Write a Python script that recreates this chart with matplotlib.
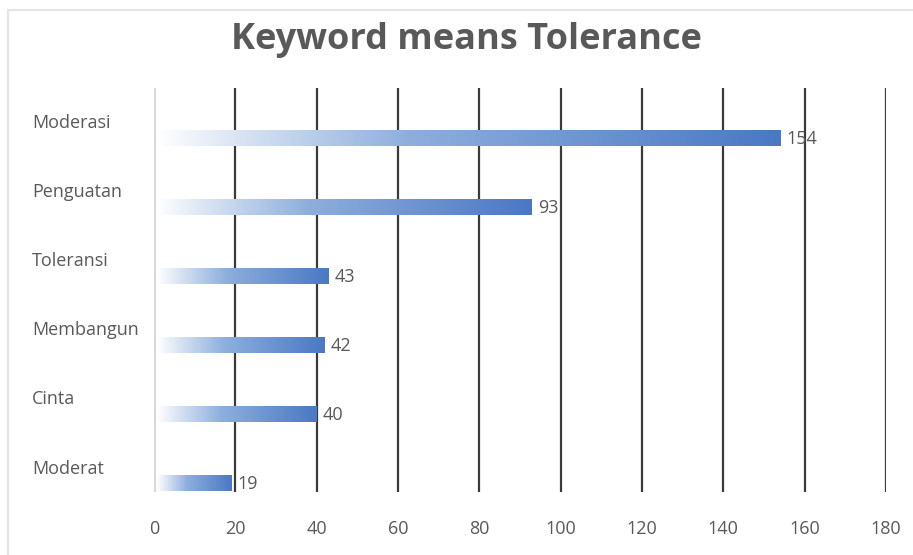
import numpy as np
import matplotlib.pyplot as plt
from matplotlib.colors import LinearSegmentedColormap
from matplotlib.lines import Line2D
from matplotlib.transforms import blended_transform_factory

# data
categories = ['Moderat', 'Cinta', 'Membangun', 'Toleransi', 'Penguatan', 'Moderasi']
values = [19, 40, 42, 43, 93, 154]
xticks = [0, 20, 40, 60, 80, 100, 120, 140, 160, 180]

W, H = 913, 555
fig = plt.figure(figsize=(W / 100, H / 100), dpi=100)
ax = fig.add_axes([154 / W, 1 - 492 / H, (886 - 154) / W, (492 - 88) / H])

# faint border, left and top
fig.add_artist(Line2D([8 / W, 8 / W], [0, 1 - 10 / H], color='#e4e4e4', lw=1.5))
fig.add_artist(Line2D([8 / W, 1], [1 - 10 / H, 1 - 10 / H], color='#e4e4e4', lw=1.5))

cmap = LinearSegmentedColormap.from_list(
    'grad', [(0, '#ffffff'), (0.12, '#dce6f4'), (0.4, '#8eafdd'), (1, '#4a78c4')])
grad = np.linspace(0, 1, 256).reshape(1, -1)

bar_h = 0.23
txt = '#595959'
font = 'Open Sans'

for x in xticks[1:]:
    ax.axvline(x, color='#3a3a3a', lw=1.6, zorder=1)
ax.axvline(0, color='#d9d9d9', lw=2.2, zorder=1)

label_tr = blended_transform_factory(fig.transFigure, ax.transData)
for i, (cat, v) in enumerate(zip(categories, values)):
    ax.imshow(grad, cmap=cmap, aspect='auto', extent=(0.8, v, i - bar_h / 2, i + bar_h / 2),
              zorder=2, interpolation='bilinear')
    ax.text(v + 1.5, i - 0.02, str(v), va='center', ha='left', color=txt,
            fontsize=13, family=font, zorder=3)
    ax.text(32 / W, i + 0.21, cat, transform=label_tr, color=txt, fontsize=13,
            family=font, va='center', ha='left')

ax.set_xlim(0, 180)
ax.set_ylim(-0.13, 5.72)
ax.set_xticks(xticks)
ax.set_xticklabels([str(x) for x in xticks], color=txt, fontsize=13, family=font)
ax.tick_params(axis='x', length=0, pad=20)
ax.set_yticks([])
for s in ax.spines.values():
    s.set_visible(False)

fig.text(466 / W, 1 - 40 / H, 'Keyword means Tolerance', ha='center', va='center',
         fontsize=26, fontweight='bold', color=txt, family=font)

fig.savefig('out.png', dpi=100)
